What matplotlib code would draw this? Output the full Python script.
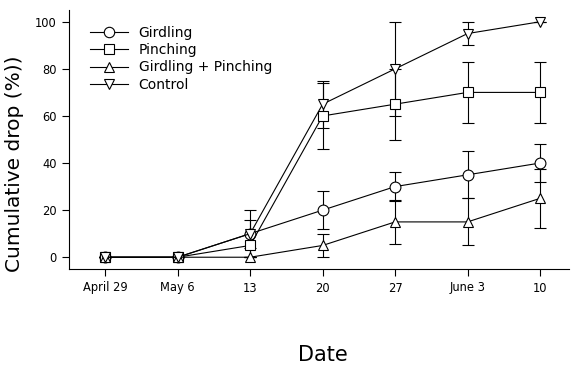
import numpy as np
import matplotlib.pyplot as plt
from matplotlib.lines import Line2D

plt.rcParams['font.family'] = ['DejaVu Sans']

dates = ['April 29', 'May 6', '13', '20', '27', 'June 3', '10']
series = ['Girdling', 'Pinching', 'Girdling + Pinching', 'Control']
markers = ['o', 's', '^', 'v']

girdling = [0, 0, 10, 20, 30, 35, 40]
girdling_err = [0, 0, 6, 8, 6, 10, 8]
pinching = [0, 0, 5, 60, 65, 70, 70]
pinching_err = [0, 0, 5, 14, 15, 13, 13]
both = [0, 0, 0, 5, 15, 15, 25]
both_err = [0, 0, 0, 5, 9.5, 10, 12.5]
control = [0, 0, 10, 65, 80, 95, 100]
control_err = [0, 0, 10, 10, 20, 5, 0]

values = [girdling, pinching, both, control]
errors = [girdling_err, pinching_err, both_err, control_err]

fig = plt.figure(figsize=(5.73, 3.66), dpi=100)
ax = fig.add_axes([69 / 573, 97 / 366, 500 / 573, 259 / 366])

x = np.arange(len(dates))
handles = []
for name, m, y, e in zip(series, markers, values, errors):
    ax.errorbar(x, y, yerr=e, color='black', lw=0.8, elinewidth=0.8,
                capsize=4.5, capthick=0.8, marker=m, markersize=7.8,
                markerfacecolor='white', markeredgecolor='black',
                markeredgewidth=0.8)
    handles.append(Line2D([], [], color='black', lw=0.8, marker=m, markersize=7.5,
                          markerfacecolor='white', markeredgecolor='black',
                          markeredgewidth=0.8, label=name))

ax.set_xlim(-0.5, 6.4)
ax.set_ylim(-5, 105)
ax.set_xticks(x)
ax.set_xticklabels(dates)
ax.set_yticks([0, 20, 40, 60, 80, 100])
ax.tick_params(labelsize=8.3, width=0.8, length=5, direction='out', pad=4)
for s in ['top', 'right']:
    ax.spines[s].set_visible(False)
for s in ['left', 'bottom']:
    ax.spines[s].set_linewidth(0.8)

ax.set_ylabel('Cumulative drop (%))', fontsize=14.5)
ax.yaxis.set_label_coords(-0.09, 0.405)
fig.text(323 / 573, 11 / 366, 'Date', fontsize=15, ha='center', va='center')

ax.legend(handles=handles, loc='upper left', frameon=False, fontsize=10,
          handlelength=2.7, handletextpad=0.8, labelspacing=0.25,
          borderpad=0, borderaxespad=0, bbox_to_anchor=(0.042, 0.94))

fig.savefig('out.png', dpi=100)
